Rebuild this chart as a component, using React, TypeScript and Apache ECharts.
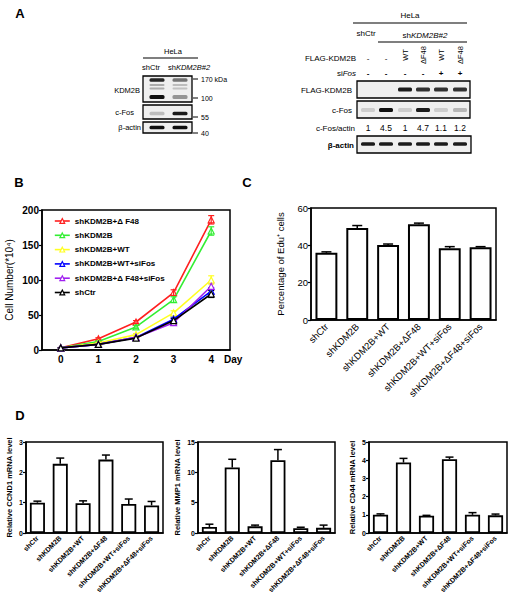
import React, { useEffect, useRef } from 'react';
import * as echarts from 'echarts';

const F = '"Liberation Sans", Arial, sans-serif';

// ---------- Panel B: growth curves ----------
const days = ['0', '1', '2', '3', '4'];
const growthNames = ['shKDM2B+Δ F48', 'shKDM2B', 'shKDM2B+WT', 'shKDM2B+WT+siFos', 'shKDM2B+Δ F48+siFos', 'shCtr'];
const growthColors = ['#ff2020', '#33ee33', '#ffff22', '#0000ff', '#a020f0', '#000000'];
const growthDF48 = [3, 16, 40, 82, 186];
const growthShKDM2B = [3, 12, 33, 72, 170];
const growthWT = [3, 10, 22, 53, 100];
const growthWTSiFos = [3, 8, 18, 44, 84];
const growthDF48SiFos = [3, 8, 18, 39, 91];
const growthShCtr = [3, 8, 17, 42, 80];
const errDF48 = [0.5, 1.5, 2, 4, 6];
const errShKDM2B = [0.5, 1.2, 2, 4, 6];
const errWT = [0.5, 1, 1.5, 3, 6];
const errWTSiFos = [0.5, 1, 1.5, 3, 5];
const errDF48SiFos = [0.5, 1, 1.5, 3, 5];
const errShCtr = [0.5, 1, 1.5, 3, 5];

// ---------- Panels C / D: bar charts ----------
const conditions = ['shCtr', 'shKDM2B', 'shKDM2B+WT', 'shKDM2B+ΔF48', 'shKDM2B+WT+siFos', 'shKDM2B+ΔF48+siFos'];
const eduPct = [36, 49.3, 40.2, 51.3, 38.5, 39];
const eduErr = [0.5, 1.3, 0.5, 0.6, 0.8, 0.3];
const ccnd1 = [1.0, 2.28, 0.98, 2.42, 0.96, 0.91];
const ccnd1Err = [0.05, 0.19, 0.08, 0.15, 0.16, 0.13];
const mmp1 = [1.0, 10.8, 1.1, 12.0, 0.8, 0.85];
const mmp1Err = [0.45, 1.35, 0.2, 1.75, 0.15, 0.45];
const cd44 = [1.0, 3.87, 0.95, 4.05, 1.0, 0.97];
const cd44Err = [0.05, 0.23, 0.02, 0.12, 0.12, 0.07];

// ---------- Panel A: western blots ----------
const leftLaneNames = ['shCtr', 'shKDM2B#2'];
const leftKdm2bBands = [[0.9, 0.55], [0.3, 0.22], [0.3, 0.2], [1.0, 0.4]];
const leftCfos = [0.22, 0.95];
const leftActin = [1, 1];
const leftMarkers = ['170 kDa', '100', '55', '40'];
const flagRow = ['-', '-', 'WT', 'ΔF48', 'WT', 'ΔF48'];
const siFosRow = ['-', '-', '-', '-', '+', '+'];
const rightFlag = [0, 0, 0.95, 0.85, 0.85, 0.85];
const rightCfos = [0.15, 1, 0.15, 0.95, 0.15, 0.25];
const rightActin = [0.95, 0.95, 0.95, 0.95, 0.95, 0.95];
const cfosActinRatio = ['1', '4.5', '1', '4.7', '1.1', '1.2'];

function txt(x: number, y: number, text: string, size: number, o: any = {}) {
  return {
    type: 'text', x, y, rotation: o.rotation || 0, silent: true,
    style: {
      text, fontSize: size, fontFamily: F, fill: '#000',
      align: o.align || 'center', verticalAlign: 'middle',
      fontWeight: o.weight || 'normal', fontStyle: o.style || 'normal',
      rich: o.rich,
    },
  };
}
function hline(x1: number, x2: number, y: number, w = 1) {
  return { type: 'line', silent: true, shape: { x1, y1: y, x2, y2: y }, style: { stroke: '#000', lineWidth: w } };
}
function box(x: number, y: number, w: number, h: number) {
  return { type: 'rect', silent: true, shape: { x, y, width: w, height: h }, style: { fill: '#efefef', stroke: '#000', lineWidth: 1.3 } };
}
function band(cx: number, cy: number, w: number, h: number, a: number) {
  return { type: 'rect', silent: true, shape: { x: cx - w / 2, y: cy - h / 2, width: w, height: h, r: 1.5 }, style: { fill: `rgba(15,15,15,${a})` } };
}

function buildGraphics() {
  const g: any[] = [];
  const italic = (s: number) => ({ i: { fontStyle: 'italic', fontSize: s, fontFamily: F, fill: '#000' } });
  // panel letters
  g.push(txt(20, 13, 'A', 13, { weight: 'bold' }));
  g.push(txt(19, 182, 'B', 13, { weight: 'bold' }));
  g.push(txt(247, 182, 'C', 13, { weight: 'bold' }));
  g.push(txt(20, 415, 'D', 13, { weight: 'bold' }));

  // left blot
  const lx = [157, 180];
  g.push(txt(173, 51, 'HeLa', 7.5));
  g.push(hline(143, 198, 58, 1.2));
  g.push(txt(151, 67, leftLaneNames[0], 7.5));
  g.push(txt(189, 67, 'sh{i|KDM2B#2}', 7.5, { rich: italic(7.5) }));
  g.push(box(143, 76, 49, 26));
  const kRows = [80, 85, 88.5, 97];
  const kH = [3.5, 2, 2, 4];
  leftKdm2bBands.forEach((row, r) => row.forEach((a, l) => g.push(band(lx[l], kRows[r], 15, kH[r], a))));
  g.push(box(143, 105, 49, 14));
  leftCfos.forEach((a, l) => g.push(band(lx[l], 113.5, 15, 3.5, a)));
  g.push(box(143, 122, 49, 11));
  leftActin.forEach((a, l) => g.push(band(lx[l], 127.5, 15, 3.5, a)));
  g.push(txt(140, 90, 'KDM2B', 7.5, { align: 'right' }));
  g.push(txt(134, 112, 'c-Fos', 7.5, { align: 'right' }));
  g.push(txt(141, 127, 'β-actin', 7.5, { align: 'right' }));
  const my = [79, 98, 117, 133];
  leftMarkers.forEach((m, i) => {
    g.push(hline(193, 198, my[i], 1));
    g.push(txt(201, my[i], m, 7, { align: 'left' }));
  });

  // right blot
  const rx = [368, 386, 405, 423, 441, 460];
  g.push(txt(410, 15, 'HeLa', 8));
  g.push(hline(353, 467, 23, 1.2));
  g.push(txt(366, 33, 'shCtr', 8));
  g.push(txt(425, 35, 'sh{i|KDM2B#2}', 8, { rich: italic(8) }));
  g.push(hline(378, 467, 42, 1.2));
  g.push(txt(356, 58, 'FLAG-KDM2B', 8, { align: 'right' }));
  flagRow.forEach((v, i) => {
    if (v === '-') g.push(txt(rx[i], 58, v, 8));
    else g.push(txt(rx[i], 55, v, 7.5, { rotation: Math.PI / 2 }));
  });
  g.push(txt(356, 73, 'si{i|Fos}', 8, { align: 'right', rich: italic(8) }));
  siFosRow.forEach((v, i) => g.push(txt(rx[i], 73, v, 8, { weight: 'bold' })));
  g.push(box(357, 81, 113, 17));
  rightFlag.forEach((a, i) => { if (a > 0) g.push(band(rx[i], 89.5, 14, 4, a)); });
  g.push(txt(352, 90, 'FLAG-KDM2B', 8, { align: 'right' }));
  g.push(box(357, 101, 113, 17));
  rightCfos.forEach((a, i) => g.push(band(rx[i], 110, 14, 4, a)));
  g.push(txt(352, 110, 'c-Fos', 8, { align: 'right' }));
  g.push(txt(355, 128, 'c-Fos/actin', 8, { align: 'right' }));
  cfosActinRatio.forEach((v, i) => g.push(txt(rx[i], 128, v, 8.5)));
  g.push(box(357, 136, 114, 17));
  rightActin.forEach((a, i) => g.push(band(rx[i], 144, 14, 3.5, a)));
  g.push(txt(354, 145, 'β-actin', 8, { align: 'right', weight: 'bold' }));

  g.push(txt(224, 359, 'Day', 10, { align: 'left', weight: 'bold' }));
  return g;
}

function errSeries(idx: number, vals: number[], errs: number[], color: string, both: boolean, capW: number, lw: number) {
  return {
    type: 'custom', xAxisIndex: idx, yAxisIndex: idx, z: 5, silent: true,
    data: vals.map((v, i) => [i, both ? v - errs[i] : v, v + errs[i]]),
    encode: { x: 0, y: [1, 2] },
    renderItem: (_p: any, api: any) => {
      const i = api.value(0);
      const lo = api.coord([i, api.value(1)]);
      const hi = api.coord([i, api.value(2)]);
      const st = { stroke: color, lineWidth: lw };
      const ch: any[] = [
        { type: 'line', shape: { x1: hi[0], y1: hi[1], x2: lo[0], y2: lo[1] }, style: st },
        { type: 'line', shape: { x1: hi[0] - capW, y1: hi[1], x2: hi[0] + capW, y2: hi[1] }, style: st },
      ];
      if (both) ch.push({ type: 'line', shape: { x1: lo[0] - capW, y1: lo[1], x2: lo[0] + capW, y2: lo[1] }, style: st });
      return { type: 'group', children: ch };
    },
  };
}

function catAxis(gi: number, data: string[], size: number, weight: string, margin: number, rotate: number) {
  return {
    type: 'category', gridIndex: gi, data, boundaryGap: true,
    axisLine: { lineStyle: { color: '#000', width: 1.5 } },
    axisTick: { alignWithLabel: true, length: 4, lineStyle: { color: '#000', width: 1.2 } },
    axisLabel: { rotate, interval: 0, fontSize: size, fontWeight: weight, color: '#000', fontFamily: F, margin },
    splitLine: { show: false },
  };
}
function valAxis(gi: number, max: number, interval: number, name: string, size: number, nameSize: number, nameGap: number, weight: string, nameWeight: string) {
  return {
    type: 'value', gridIndex: gi, min: 0, max, interval,
    axisLine: { show: true, lineStyle: { color: '#000', width: 1.5 } },
    axisTick: { show: true, length: 3, lineStyle: { color: '#000', width: 1.2 } },
    axisLabel: { fontSize: size, fontWeight: weight, color: '#000', fontFamily: F, margin: 3 },
    splitLine: { show: false },
    name, nameLocation: 'middle', nameGap,
    nameTextStyle: { fontSize: nameSize, fontWeight: nameWeight, color: '#000', fontFamily: F },
  };
}
function barSeries(idx: number, data: number[], width: string, bw: number) {
  return {
    type: 'bar', xAxisIndex: idx, yAxisIndex: idx, data, barWidth: width, silent: true,
    itemStyle: { color: '#fff', borderColor: '#000', borderWidth: bw },
  };
}

export default function App() {
  const ref = useRef<HTMLDivElement>(null);
  useEffect(() => {
    if (!ref.current) return;
    const chart = echarts.init(ref.current, null, { renderer: 'svg', width: 515, height: 600 });
    const growth = [growthDF48, growthShKDM2B, growthWT, growthWTSiFos, growthDF48SiFos, growthShCtr];
    const growthErr = [errDF48, errShKDM2B, errWT, errWTSiFos, errDF48SiFos, errShCtr];
    const frame = { show: true, borderColor: '#000', borderWidth: 1.5, backgroundColor: 'transparent' };
    const series: any[] = [];
    growth.forEach((d, k) => {
      series.push({
        type: 'line', name: growthNames[k], xAxisIndex: 0, yAxisIndex: 0, data: d,
        symbol: 'triangle', symbolSize: 6, color: growthColors[k],
        lineStyle: { width: 1.6, color: growthColors[k] },
        itemStyle: { color: '#ffffff', borderColor: growthColors[k], borderWidth: 1.2 }, z: 3 + k,
      });
      series.push(errSeries(0, d, growthErr[k], growthColors[k], true, 3, 1.2));
    });
    series.push(barSeries(1, eduPct, '71%', 2));
    series.push(errSeries(1, eduPct, eduErr, '#000', false, 5, 1.5));
    series.push(barSeries(2, ccnd1, '66%', 1.8));
    series.push(errSeries(2, ccnd1, ccnd1Err, '#000', false, 4, 1.5));
    series.push(barSeries(3, mmp1, '66%', 1.8));
    series.push(errSeries(3, mmp1, mmp1Err, '#000', false, 4, 1.5));
    series.push(barSeries(4, cd44, '66%', 1.8));
    series.push(errSeries(4, cd44, cd44Err, '#000', false, 4, 1.5));

    chart.setOption({
      animation: false,
      backgroundColor: '#fff',
      textStyle: { fontFamily: F },
      grid: [
        { left: 42, top: 210, width: 188, height: 140, ...frame },
        { left: 311, top: 208, width: 185, height: 112, ...frame },
        { left: 26, top: 442, width: 137, height: 91, ...frame },
        { left: 198, top: 442, width: 137, height: 91, ...frame },
        { left: 369, top: 442, width: 138, height: 91, ...frame },
      ],
      xAxis: [
        catAxis(0, days, 10, 'bold', 4, 0),
        catAxis(1, conditions, 9.5, 'normal', 5, 45),
        catAxis(2, conditions, 7, 'bold', 4, 45),
        catAxis(3, conditions, 7, 'bold', 4, 45),
        catAxis(4, conditions, 7, 'bold', 4, 45),
      ],
      yAxis: [
        valAxis(0, 200, 50, 'Cell Number(*10⁴)', 10, 10, 28, 'bold', 'normal'),
        valAxis(1, 60, 20, 'Percentage of Edu⁺ cells', 9.5, 9.5, 26, 'normal', 'normal'),
        valAxis(2, 3, 1, 'Relative CCND1 mRNA level', 7, 7.5, 13, 'bold', 'bold'),
        valAxis(3, 15, 5, 'Relative MMP1 mRNA level', 7, 7.5, 17, 'bold', 'bold'),
        valAxis(4, 5, 1, 'Relative CD44 mRNA level', 7, 7.5, 13, 'bold', 'bold'),
      ],
      legend: {
        data: growthNames.map((n, k) => ({
          name: n,
          itemStyle: { color: '#ffffff', borderColor: growthColors[k], borderWidth: 1.2 },
          lineStyle: { color: growthColors[k], width: 1.6 },
        })),
        orient: 'vertical', left: 49, top: 212,
        itemWidth: 15, itemHeight: 6, itemGap: 6.3,
        textStyle: { fontSize: 8, fontWeight: 'bold', color: '#000', fontFamily: F, lineHeight: 8 },
      },
      graphic: buildGraphics(),
      series,
    });
    return () => chart.dispose();
  }, []);
  return <div ref={ref} style={{ position: 'absolute', left: 0, top: 0, width: 515, height: 600 }} />;
}
